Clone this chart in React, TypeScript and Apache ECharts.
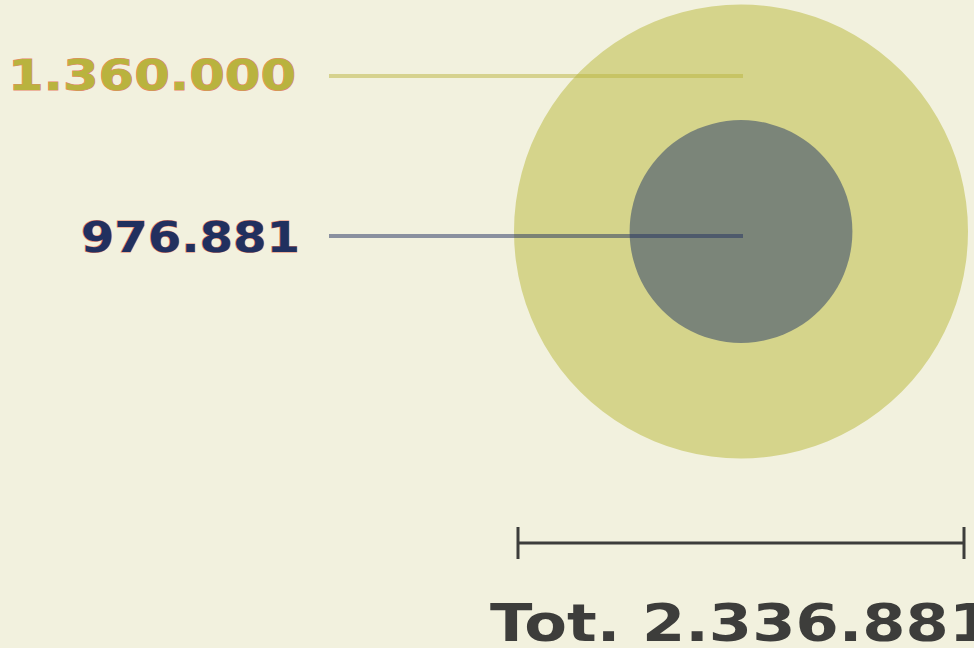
import React, { useEffect, useRef } from "react";
import * as echarts from "echarts";

const categories = ["1.360.000", "976.881"];
const seriesValues = [1360000, 976881];
const totalValue = 2336881;
const totalLabel = "Tot.";

const fmt = (v: number) => v.toString().replace(/\B(?=(\d{3})+(?!\d))/g, ".");

export default function App() {
  const ref = useRef<HTMLDivElement>(null);
  useEffect(() => {
    document.body.style.margin = "0";
    document.body.style.overflow = "hidden";
    if (!ref.current) return;
    const chart = echarts.init(ref.current, null, { renderer: "svg" });
    const D = 454;
    const sizeOf = (v: number) => D * Math.pow(v / totalValue, 0.816);
    const font = "bold 43px 'DejaVu Sans'";
    chart.setOption({
      animation: false,
      backgroundColor: "#f2f1de",
      grid: { left: 514, top: 5, width: 454, height: 453 },
      xAxis: { type: "value", min: -1, max: 1, show: false },
      yAxis: { type: "value", min: -1, max: 1, show: false },
      series: [
        {
          type: "scatter",
          name: "total",
          symbol: "circle",
          symbolSize: (val: number[]) => sizeOf(val[2]),
          itemStyle: { color: "#d5d48b", opacity: 1 },
          data: [[0, 0, totalValue]],
          z: 1,
          silent: true,
        },
        {
          type: "scatter",
          name: categories[1],
          symbol: "circle",
          symbolSize: (val: number[]) => sizeOf(val[2]),
          itemStyle: { color: "#7b8579", opacity: 1 },
          data: [[0, 0, seriesValues[1]]],
          z: 2,
          silent: true,
        },
      ],
      graphic: [
        {
          type: "line",
          z: 10,
          shape: { x1: 329, y1: 76, x2: 743, y2: 76 },
          style: { stroke: "rgba(186,180,62,0.5)", lineWidth: 4 },
        },
        {
          type: "line",
          z: 10,
          shape: { x1: 329, y1: 236, x2: 743, y2: 236 },
          style: { stroke: "rgba(33,48,95,0.5)", lineWidth: 4 },
        },
        {
          type: "text",
          z: 11,
          x: 296,
          y: 75,
          scaleX: 1.19,
          style: {
            text: fmt(seriesValues[0]),
            font,
            fill: "#b9b33e",
            stroke: "#e8836a",
            lineWidth: 1,
            align: "right",
            verticalAlign: "middle",
          },
        },
        {
          type: "text",
          z: 11,
          x: 300,
          y: 237,
          scaleX: 1.12,
          style: {
            text: fmt(seriesValues[1]),
            font,
            fill: "#21305f",
            stroke: "#e8836a",
            lineWidth: 1,
            align: "right",
            verticalAlign: "middle",
          },
        },
        {
          type: "line",
          z: 10,
          shape: { x1: 518, y1: 543, x2: 964, y2: 543 },
          style: { stroke: "#3d3d3b", lineWidth: 3 },
        },
        {
          type: "line",
          z: 10,
          shape: { x1: 518, y1: 527, x2: 518, y2: 559 },
          style: { stroke: "#3d3d3b", lineWidth: 3 },
        },
        {
          type: "line",
          z: 10,
          shape: { x1: 964, y1: 527, x2: 964, y2: 559 },
          style: { stroke: "#3d3d3b", lineWidth: 3 },
        },
        {
          type: "text",
          z: 11,
          x: 490,
          y: 623,
          scaleX: 1.22,
          style: {
            text: totalLabel + " " + fmt(totalValue),
            font: "bold 51px 'DejaVu Sans'",
            fill: "#3d3d3b",
            align: "left",
            verticalAlign: "middle",
          },
        },
      ],
    });
    return () => chart.dispose();
  }, []);
  return <div ref={ref} style={{ width: 974, height: 648 }} />;
}
